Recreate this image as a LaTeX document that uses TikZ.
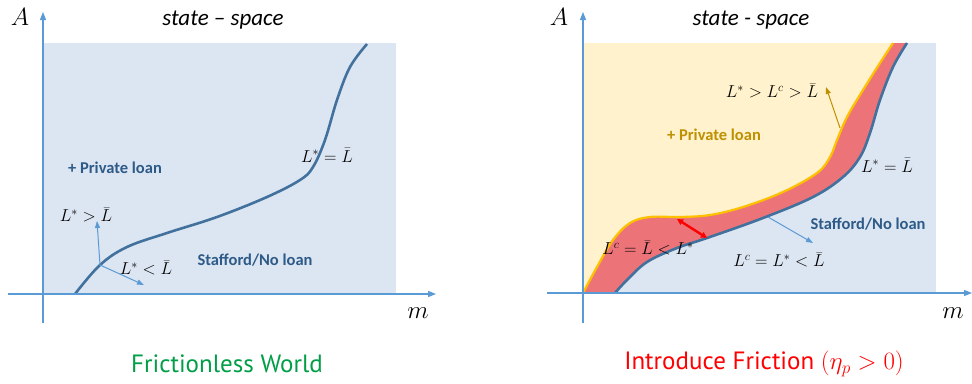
\documentclass[tikz,border=0pt]{standalone}
\usepackage{fontspec}
\usetikzlibrary{arrows.meta}
\newfontfamily\calib[Ligatures=TeX]{Carlito}
\newfontfamily\capfont[Ligatures=TeX]{PT Sans}
\definecolor{bgblue}{HTML}{DCE6F2}
\definecolor{axblue}{HTML}{5B9BD5}
\definecolor{curveblue}{HTML}{41719C}
\definecolor{txtblue}{HTML}{2E5A88}
\definecolor{bgyellow}{HTML}{FFF2CC}
\definecolor{lineorange}{HTML}{FFC000}
\definecolor{bandred}{HTML}{EC7479}
\definecolor{goldtxt}{HTML}{BF9000}
\definecolor{capgreen}{HTML}{009E47}
\definecolor{capred}{HTML}{FF0000}
\tikzset{
  axis/.style={draw=axblue, line width=1.2pt, -{Triangle[length=8pt,width=6pt]}},
  lstar/.style={draw=curveblue, line width=2.6pt},
  lc/.style={draw=lineorange, line width=2.2pt},
  pointer/.style={draw=axblue, line width=1pt, -{Triangle[length=7pt,width=5pt]}},
  goldptr/.style={draw=goldtxt, line width=1pt, -{Triangle[length=7pt,width=5pt]}},
  redptr/.style={draw=capred, line width=2.4pt, {Triangle[length=6pt,width=6pt]}-{Triangle[length=6pt,width=6pt]}},
  title/.style={font=\calib\itshape\fontsize{23}{26}\selectfont},
  region/.style={font=\calib\bfseries\fontsize{16.5}{19}\selectfont},
  mlab/.style={font=\fontsize{17.5}{20}\selectfont, inner sep=0pt},
  axlab/.style={font=\fontsize{26}{28}\selectfont, inner sep=0pt},
  caption/.style={font=\capfont\fontsize{25}{28}\selectfont},
}
\begin{document}
\begin{tikzpicture}[x=1pt,y=-1pt]
\path[use as bounding box, fill=white] (0,0) rectangle (972,383);

% ================= LEFT PANEL =================
\fill[bgblue] (43,43) rectangle (396,294);
\draw[lstar] plot[smooth, tension=0.6] coordinates {(75,294) (100,265) (127,247) (167,233) (217,217) (267,197) (300,180) (313,167) (325,140) (337,100) (350,67) (367,44)};
\coordinate (lo) at (43,323);
\coordinate (lt) at (43,12);
\coordinate (ll) at (8,294);
\coordinate (lr) at (436,294);
\draw[axis] (lo) -- (lt);
\draw[axis] (ll) -- (lr);
\node[axlab] (lA) at (20,17) {$A$};
\node[axlab] (lm) at (418,313) {$m$};
\node[title] (lt1) at (223,20) {state – space};
\node[region, text=txtblue] (lpriv) at (115,168) {+ Private loan};
\node[region, text=txtblue] (lstaf) at (255,260) {Stafford/No loan};
\node[mlab] (lgt) at (86,215) {$L^{*}>\bar{L}$};
\node[mlab] (llt) at (146,268) {$L^{*}<\bar{L}$};
\node[mlab] (leq) at (327,155) {$L^{*}=\bar{L}$};
\coordinate (lp) at (100,265);
\coordinate (lup) at (97,221);
\coordinate (ldn) at (144,285);
\draw[pointer] (lp) -- (lup);
\draw[pointer] (lp) -- (ldn);
\node[caption, text=capgreen] (lcap) at (227,364) {Frictionless World};

% ================= RIGHT PANEL =================
\fill[bgblue] (583,43) rectangle (936,293);
% yellow region above L^c
\fill[bgyellow] (583,293) -- plot[smooth, tension=0.6] coordinates {(583,293) (597,267) (613,240) (630,223) (650,217) (680,217) (710,215) (743,207) (783,192) (817,173) (830,157) (837,140) (847,117) (863,90) (880,63) (893,43)} -- (583,43) -- cycle;
% red band
\fill[bandred] plot[smooth, tension=0.6] coordinates {(583,293) (597,267) (613,240) (630,223) (650,217) (680,217) (710,215) (743,207) (783,192) (817,173) (830,157) (837,140) (847,117) (863,90) (880,63) (893,43)}
 -- plot[smooth, tension=0.6] coordinates {(907,43) (893,67) (880,100) (870,133) (860,157) (843,177) (813,197) (763,218) (707,238) (677,248) (647,262) (627,280) (615,293)} -- cycle;
\draw[lc] plot[smooth, tension=0.6] coordinates {(583,293) (597,267) (613,240) (630,223) (650,217) (680,217) (710,215) (743,207) (783,192) (817,173) (830,157) (837,140) (847,117) (863,90) (880,63) (893,43)};
\draw[lstar] plot[smooth, tension=0.6] coordinates {(615,293) (627,280) (647,262) (677,248) (707,238) (763,218) (813,197) (843,177) (860,157) (870,133) (880,100) (893,67) (907,43)};
\coordinate (ro) at (583,323);
\coordinate (rt) at (583,12);
\coordinate (rl) at (547,293);
\coordinate (rr) at (972,293);
\draw[axis] (ro) -- (rt);
\draw[axis] (rl) -- (rr);
\node[axlab] (rA) at (559,17) {$A$};
\node[axlab] (rm) at (953,313) {$m$};
\node[title] (rt1) at (751,20) {state - space};
\node[region, text=goldtxt] (rpriv) at (714,135) {+ Private loan};
\node[region, text=txtblue] (rstaf) at (868,224) {Stafford/No loan};
\node[mlab] (rgt) at (772,91) {$L^{*}>L^{c}>\bar{L}$};
\node[mlab] (req) at (887,165) {$L^{*}=\bar{L}$};
\node[mlab] (rlc1) at (648,248) {$L^{c}=\bar{L}<L^{*}$};
\node[mlab] (rlc2) at (779,260) {$L^{c}=L^{*}<\bar{L}$};
\coordinate (rg1) at (840,128);
\coordinate (rg2) at (826,87);
\draw[goldptr] (rg1) -- (rg2);
\coordinate (rb1) at (768,217);
\coordinate (rb2) at (813,243);
\draw[pointer] (rb1) -- (rb2);
\coordinate (rr1) at (677,219);
\coordinate (rr2) at (707,238);
\draw[redptr] (rr1) -- (rr2);
\node[caption, text=capred] (rcap) at (764,364) {Introduce Friction $(\eta_{p}>0)$};
\end{tikzpicture}
\end{document}
